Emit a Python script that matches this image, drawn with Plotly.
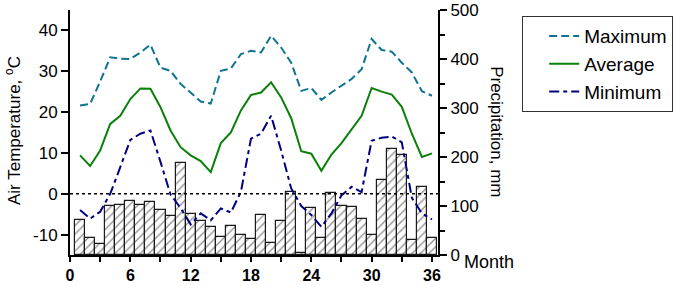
import plotly.graph_objects as go

months = list(range(1, 37))

t_max = [21.6, 22.0, 27.5, 33.4, 33.1, 33.0, 34.6, 36.5, 30.9, 30.1, 26.9, 24.8,
         22.6, 22.1, 30.1, 30.7, 34.2, 35.0, 34.6, 38.7, 35.8, 32.1, 25.2, 25.9,
         23.0, 24.8, 26.5, 28.1, 30.5, 37.9, 35.2, 34.8, 32.1, 29.7, 25.1, 24.0]

t_avg = [9.4, 6.8, 10.6, 17.1, 19.1, 23.2, 25.8, 25.7, 21.2, 15.5, 11.4, 9.4,
         8.0, 5.3, 12.4, 15.0, 20.4, 24.2, 24.8, 27.3, 23.6, 18.5, 10.4, 9.8,
         5.6, 9.6, 12.4, 15.8, 19.1, 25.9, 25.0, 24.3, 21.3, 14.7, 9.0, 9.9]

t_min = [-4.0, -6.1, -4.4, 0.0, 6.5, 13.2, 14.7, 15.5, 7.8, -0.2, -3.5, -7.5,
         -4.8, -6.5, -3.6, -4.6, 0.5, 13.5, 14.7, 19.1, 10.6, 1.3, -3.0, -5.2,
         -8.1, -4.8, -0.4, 1.7, 0.4, 13.0, 13.7, 14.0, 12.6, -1.0, -4.8, -6.3]

precip = [72, 34, 22, 99, 103, 111, 103, 108, 91, 79, 187, 84,
          69, 58, 36, 60, 41, 32, 82, 24, 70, 129, 5, 95,
          34, 127, 99, 98, 73, 41, 153, 217, 205, 31, 138, 34]

x_ticks = [0, 6, 12, 18, 24, 30, 36]
t_ticks = [-10, 0, 10, 20, 30, 40]
t_tick_text = ["-10", "0", "10", "20", "30", "40"]
p_ticks = [0, 100, 200, 300, 400, 500]

FONT = "Arial, Liberation Sans, sans-serif"

fig = go.Figure()

fig.add_trace(go.Bar(
    x=months, y=precip, yaxis="y", width=1.0, showlegend=False,
    marker=dict(color="white",
                line=dict(color="#1a1a1a", width=1.2),
                pattern=dict(shape="/", fgcolor="#1a1a1a", bgcolor="white",
                             size=6, solidity=0.22)),
))

fig.add_trace(go.Scatter(
    x=months, y=t_max, yaxis="y2", mode="lines", name="Maximum",
    legendgroup="a",
    line=dict(color="#0f7391", width=2, dash="8px,4px"),
))
fig.add_trace(go.Scatter(
    x=months, y=t_avg, yaxis="y2", mode="lines", name="Average",
    legendgroup="b",
    line=dict(color="#0a800a", width=2),
))
fig.add_trace(go.Scatter(
    x=months, y=t_min, yaxis="y2", mode="lines", name="Minimum",
    legendgroup="c",
    line=dict(color="#000080", width=2, dash="10px,4px,4px,4px"),
))

fig.add_shape(type="line", xref="paper", x0=0, x1=1, yref="y2", y0=0, y1=0,
              line=dict(color="black", width=1.5, dash="dot"), layer="above")

axis_common = dict(showline=True, linewidth=2, linecolor="black", ticks="outside",
                   tickwidth=2, tickcolor="black", showgrid=False, zeroline=False,
                   automargin=False)

fig.update_layout(
    width=686, height=285,
    margin=dict(l=70, r=248, t=10, b=30, autoexpand=False),
    paper_bgcolor="white", plot_bgcolor="white",
    font=dict(family=FONT, color="black", size=17),
    bargap=0,
    xaxis=dict(range=[0, 36.6], tickvals=x_ticks, ticklen=5,
               tickfont=dict(size=16, weight="bold", family=FONT),
               minor=dict(tickvals=[3, 9, 15, 21, 27, 33], ticklen=5, tickwidth=2,
                          tickcolor="black", ticks="outside"),
               **axis_common),
    yaxis=dict(side="right", range=[0, 500], tickvals=p_ticks, ticklen=7,
               tickfont=dict(size=17),
               minor=dict(dtick=50, tick0=0, ticklen=5, tickwidth=2,
                          tickcolor="black", ticks="outside"),
               **axis_common),
    yaxis2=dict(overlaying="y", side="left", range=[-15, 45], tickvals=t_ticks,
                ticktext=t_tick_text, ticklen=7, tickfont=dict(size=17),
                **axis_common),
    legend=dict(xref="container", yref="container", x=522 / 686, y=1 - 16 / 285,
                xanchor="left", yanchor="top",
                bordercolor="#333333", borderwidth=1.2, bgcolor="white",
                font=dict(size=19), tracegroupgap=0, indentation=21),
    showlegend=True,
)

fig.add_annotation(text="Air Temperature, <sup>o</sup>C", textangle=-90,
                   xref="paper", yref="paper", x=-0.155, y=0.51,
                   xanchor="center", yanchor="middle", showarrow=False,
                   font=dict(size=17))
fig.add_annotation(text="Precipitation, mm", textangle=90,
                   xref="paper", yref="paper", x=1.160, y=0.502,
                   xanchor="center", yanchor="middle", showarrow=False,
                   font=dict(size=17))
fig.add_annotation(text="Month", xref="paper", yref="paper", x=1.065, y=-0.03,
                   xanchor="left", yanchor="middle", showarrow=False,
                   font=dict(size=18))

fig.write_html("out.html",
               config={"displayModeBar": False},
               post_script="document.body.style.margin='0';"
                           "document.body.style.overflow='hidden';")
